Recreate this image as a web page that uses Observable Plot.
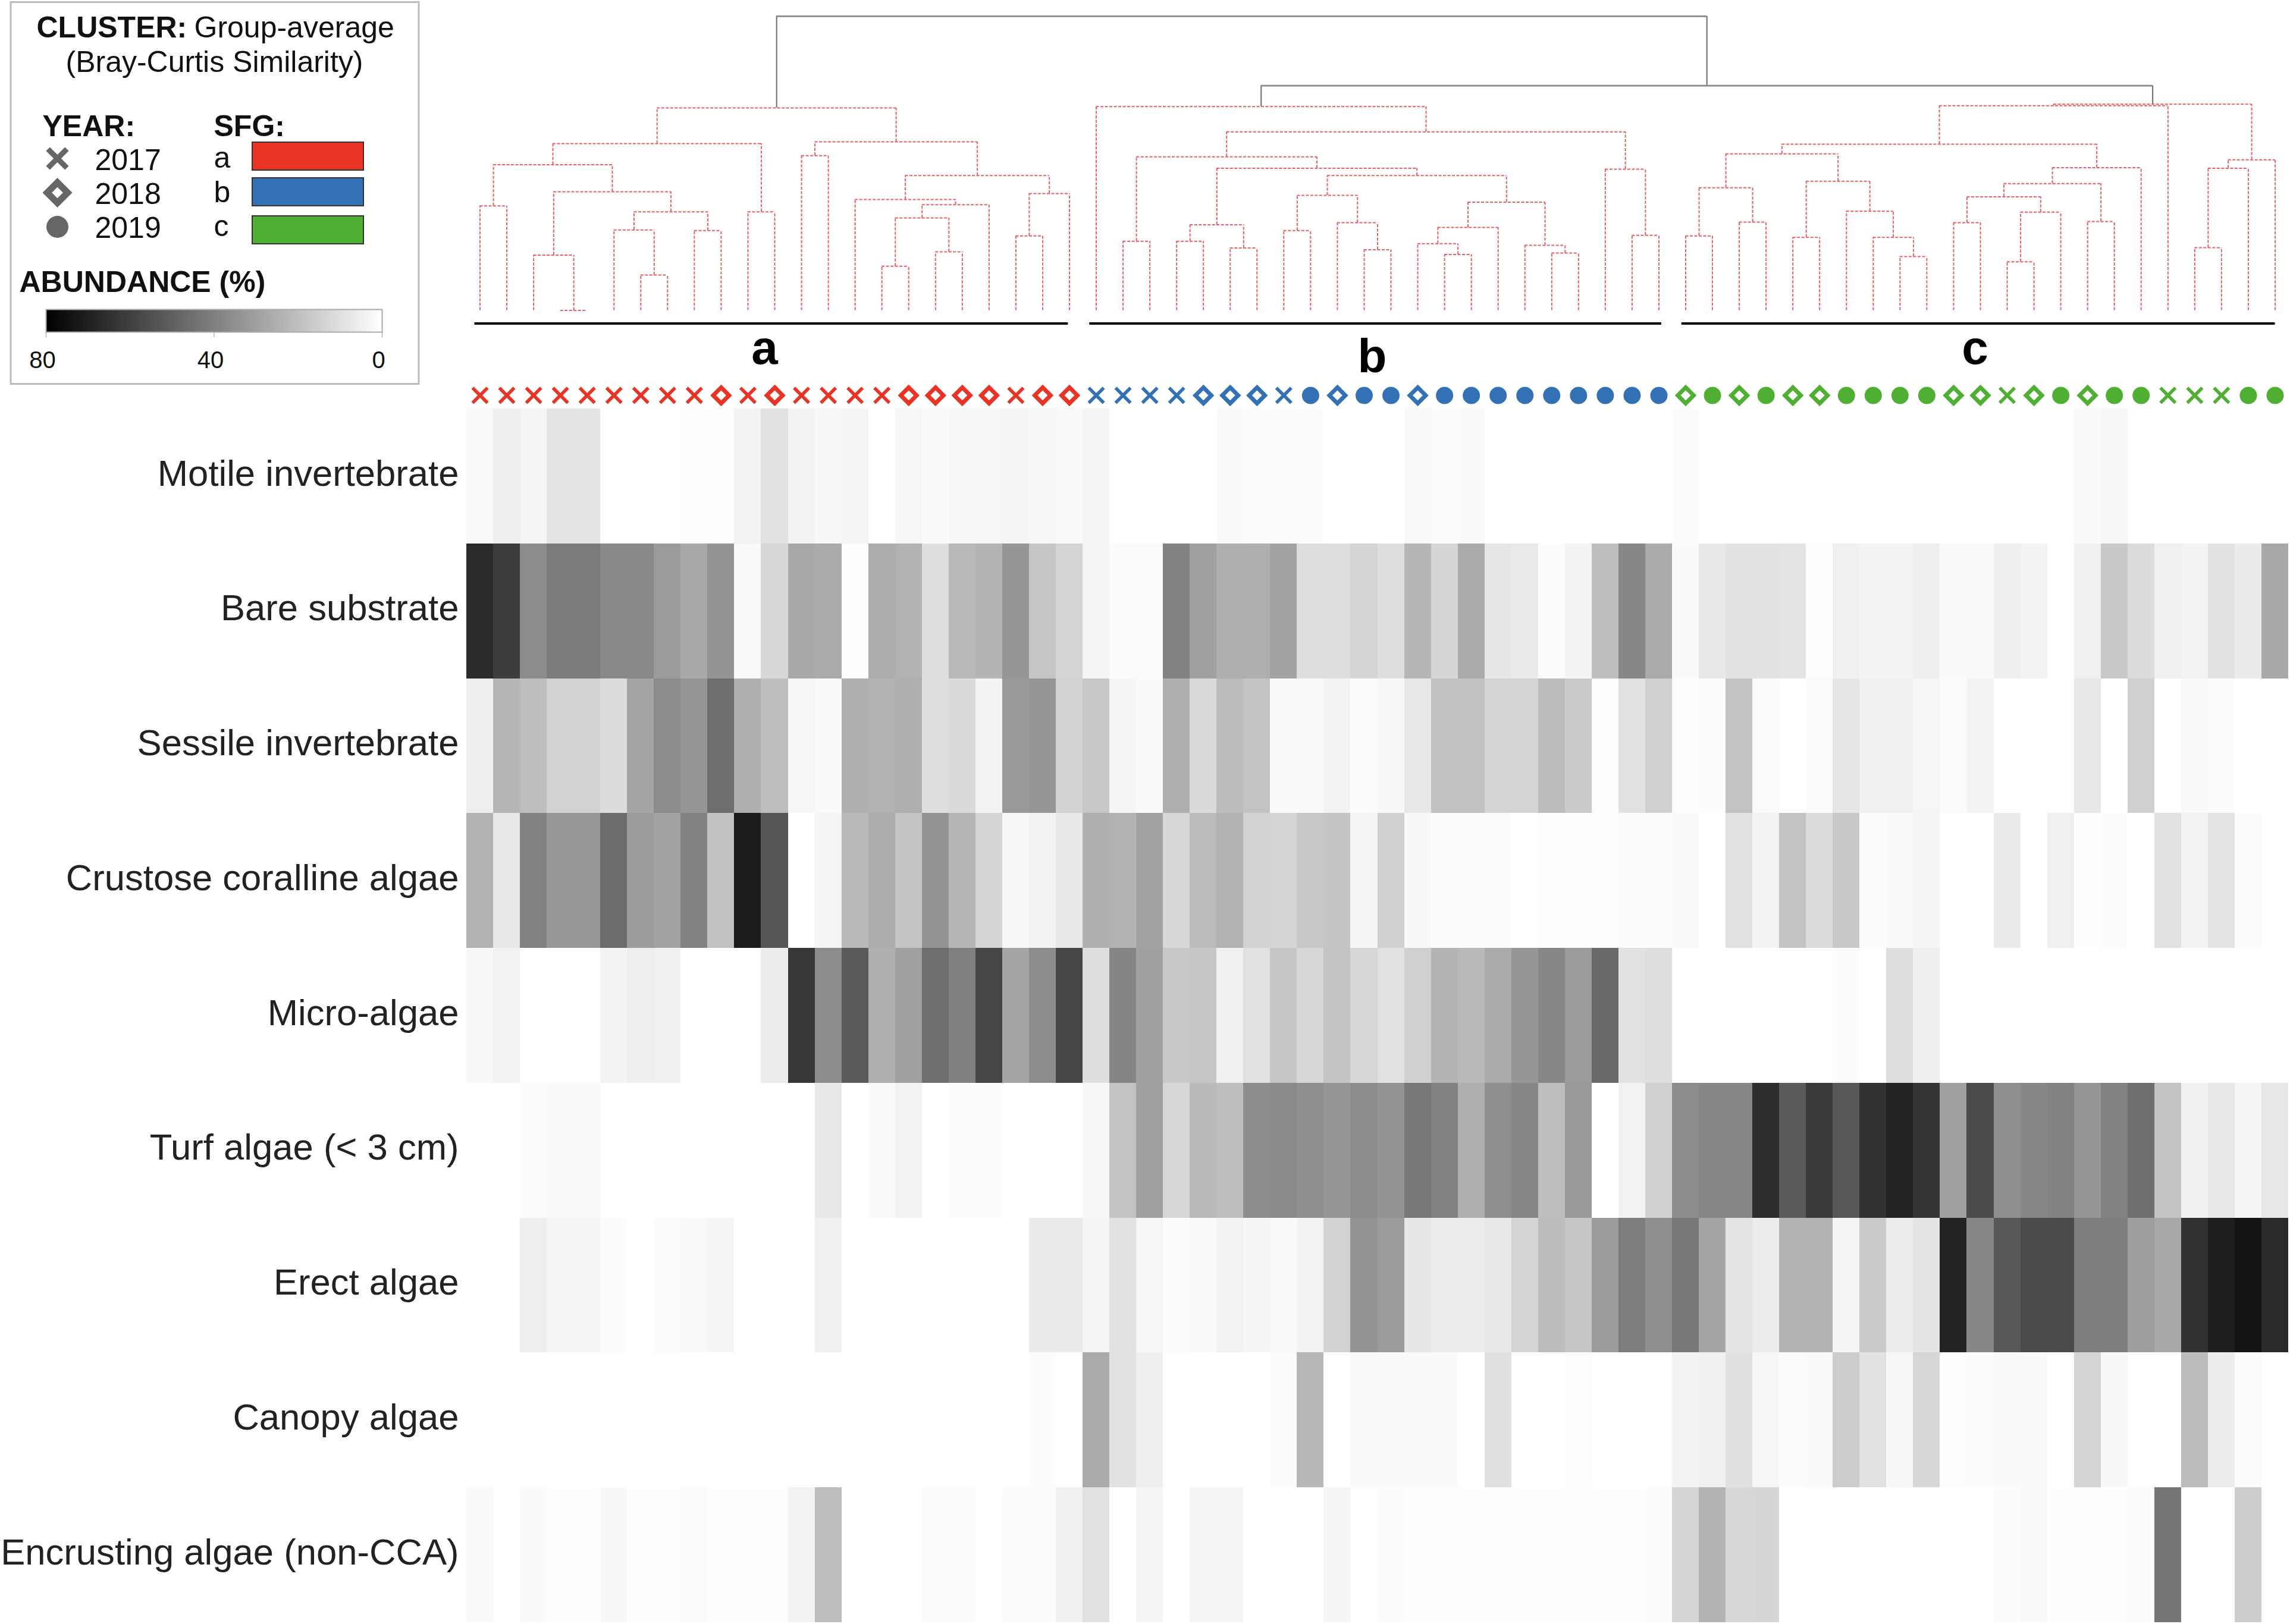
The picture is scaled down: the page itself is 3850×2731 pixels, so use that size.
<!DOCTYPE html>
<html>
<head>
<meta charset="utf-8">
<script src="https://cdn.jsdelivr.net/npm/d3@7"></script>
<script src="https://cdn.jsdelivr.net/npm/@observablehq/plot@0.6"></script>
<style>
html,body{margin:0;padding:0;background:#fff}
#page{position:relative;width:3850px;height:2731px;overflow:hidden}
#page svg{display:block;max-width:none}
.over{position:absolute;left:0;top:0}
</style>
</head>
<body>
<div id="page"></div>
<script>
const FONT = "'Liberation Sans', Arial, sans-serif";

// ----- categories -----
const groups = ["Motile invertebrate","Bare substrate","Sessile invertebrate","Crustose coralline algae","Micro-algae","Turf algae (< 3 cm)","Erect algae","Canopy algae","Encrusting algae (non-CCA)"];
const sfgNames = ["a","b","c"];
const sfgColors = ["#e93324","#3371b5","#4faf32"];
const sfgSizes = [23,22,23];
const legendYears = [2017,2018,2019];

// ----- year of each sample, in dendrogram order -----
const yearsA = [2017,2017,2017,2017,2017,2017,2017,2017,2017,2018,2017,2018,2017,2017,2017,2017,2018,2018,2018,2018,2017,2018,2018];
const yearsB = [2017,2017,2017,2017,2018,2018,2018,2017,2019,2018,2019,2019,2018,2019,2019,2019,2019,2019,2019,2019,2019,2019];
const yearsC = [2018,2019,2018,2019,2018,2018,2019,2019,2019,2019,2018,2018,2017,2018,2019,2018,2019,2019,2017,2017,2017,2019,2019];

// ----- abundance (%) per group, one value per sample -----
const motile = [1.6,5.3,3.1,8.5,8.5,0,0,0,0.6,0.3,4.1,9.1,3.8,2.2,3.1,0,2.8,1.6,2.5,2.8,3.1,2.5,1.6,
  3.5,0,0,0,0,1.6,1.3,0.9,0.9,0,0,0,1.9,1.3,1.6,0,0,0,0,0,0,0,
  0.9,0,0,0,0,0,0,0,0,0,0,0,0,0,0,1.6,2.2,0,0,0,0,0,0];
const bare = [66.8,61.2,36.1,41.4,41.4,37.3,37.3,31.4,27.3,33.6,1.6,12.5,27.3,26.7,0.6,26,24.2,10.4,22,23.5,32.9,17.9,13.5,
  3.1,1.3,1.3,39.2,29.8,25.1,25.1,28.9,10.4,10.4,13.2,10.4,22.9,12.9,26.7,7.8,6.6,0.9,3.8,20.4,37.6,26.7,
  1.6,7.2,9.1,9.1,8.5,0.6,4.7,3.8,3.8,5.3,1.6,1.6,5.3,3.8,0,4.7,17.3,11,4.7,3.8,9.1,6.3,27.3];
const sessile = [5.3,22.9,20.4,14.1,14.1,11,28.2,36.1,32.9,45.5,25.1,20.4,2.8,1.6,25.1,24.2,25.1,10.4,11.6,3.8,32,32.9,14.1,
  17.3,3.1,1.6,25.1,11.6,21,18.8,1.6,1.6,3.8,0.9,2.2,7.2,19.4,19.4,13.5,13.5,21,16.6,0.6,9.4,14.7,
  0.6,0.9,18.8,1.3,0,1.3,7.8,4.7,4.7,2.8,1.3,3.8,0,0,0,7.2,0,14.7,0,1.6,0.9,0,0];
const crustose = [24.2,7.2,39.2,32.3,32.3,46.1,31.4,29.2,39.2,19.4,71.2,53.3,0,3.5,21.6,26,18.5,33.6,22.9,13.5,2.8,3.8,7.2,
  25.1,24.2,28.9,12.5,21,24.2,14.1,13.5,17.3,18.2,3.1,14.7,2.2,0.9,0.9,0.9,0,0.6,0.6,0.6,0.9,0.9,
  1.6,0,9.4,3.8,18.8,11,17.3,0.9,1.6,3.1,0,0,6.3,0,4.7,0.6,0.9,0,9.4,3.8,8.5,0.9,0];
const micro = [2.2,4.1,0,0,0,3.8,5.3,4.7,0,0,0,6,62.7,36.1,51.8,25.1,29.8,45.5,39.8,58,28.2,36.1,58,
  10.4,38.3,29.8,17.3,17.9,4.7,9.4,17.9,12.5,18.8,12.5,9.4,14.7,23.5,22,26.7,32.9,37.6,31.4,47.1,9.4,10.4,
  0,0,0,0,0,0,0.9,0,10.4,5.3,0,0,0,0,0,0,0,0,0,0,0,0,0];
const turf = [0,0,0.9,1.6,1.6,0,0,0,0,0,0,0,0,7.2,0,1.6,4.1,0,0.9,0.9,0,0,0,
  2.5,18.8,29.8,12.5,22,20.4,36.1,36.7,35.1,32.9,36.1,33.6,42.4,39.2,25.1,35.4,37.6,20.4,32,0,4.1,14.7,
  36.1,37.6,37.6,65.9,51.8,61.8,52.4,64.3,69,63.7,29.8,56.5,35.1,37.6,39.2,32.9,39.2,45.5,18.8,4.7,7.2,3.1,7.2];
const erect = [0,0,5.3,3.5,3.5,0.9,0,1.3,1.9,3.1,0,0,0,4.7,0,0,0,0,0,0,0,6.3,6.3,
  3.5,9.1,2.8,0.9,1.6,4.1,3.1,1.9,3.8,14.1,33.6,31.4,7.8,6,6,7.2,13.5,21,17.9,31.4,40.8,35.4,
  42.4,28.2,8.5,6,23.5,23.5,3.1,16.6,6,8.5,69,37.6,52.4,56.5,56.5,40.8,40.8,30.4,27.3,64.3,70.6,73.7,66.8];
const canopy = [0,0,0,0,0,0,0,0,0,0,0,0,0,0,0,0,0,0,0,0,0,0.9,0,
  26.7,9.1,5.3,0,0,0,0,0.9,22.6,0,1.6,1.6,1.9,1.6,0,9.7,0,0,0.6,0,0,0,
  3.8,4.7,9.7,2.8,1.3,1.6,16,9.4,2.8,12.5,0.6,0.9,1.6,1.6,0,13.5,2.2,0,0,21.3,5.9,0.9,0];
const encrusting = [1.6,0,1.6,0.3,0.3,2.2,0.3,0.3,1.3,0.3,0.3,0.3,4.1,20.4,0,0,0,0.9,0.9,0,0.9,0.9,4.7,
  9.4,0,3.1,0,3.1,3.1,0,0,0,3.1,0,0.9,0.3,0.3,0.3,0.3,0.3,0.3,0.3,0.3,0.3,0.9,
  13.5,23.5,12.2,12.9,0,0,0,0,0,0,0,0,0.9,1.6,0.3,0.3,0.3,0.9,43,0,0,15.7,0];

// ----- dendrogram: [merge height, left, right]; a number is a sample -----
const treeA = [68.8,[56.7,[49.5,[35.5,0,1],[40.3,[18.8,2,[0,3,4]],[33.5,[27.3,5,[12,6,7]],[27.1,8,9]]]],[33.5,10,11]],
  [57.3,[52.6,12,13],[45.8,[37.7,14,[35.9,[31.4,[15,15,16],[19.9,17,18]],19]],[39.7,[25.3,20,21],22]]]];
const treeB = [69.3,23,[60.7,[52.2,[23.5,24,25],[48.3,[29.1,[23.5,26,27],[21.2,28,29]],
  [45.8,[39.1,[27.1,30,31],[29.8,32,[20.6,33,34]]],[36.8,[28.2,[22.7,35,[19,36,37]],38],[22.1,39,[19.5,40,41]]]]]],[48,42,[25.5,43,44]]]];
const treeC = [70.1,[69.6,[56.5,[53.2,[41.7,[25.3,45,46],[30,47,48]],[43.9,[24.8,49,50],[33.7,51,[24.8,52,[18.3,53,54]]]]],
  [48.5,[43.1,[38.6,[29.8,55,56],[33.4,[16.5,57,58],59]],[30.2,60,61]],62]],63],[51.2,[48.3,[21.3,64,65],66],67]];
const heightBC = 76.4, heightRoot = 100;
const clusterBars = [[0.3,22.45],[23.25,44.6],[45.35,67.5]];
const clusterLabels = [{name:"a",at:11.12,dy:90},{name:"b",at:33.8,dy:104},{name:"c",at:56.3,dy:90}];

// ----- tables -----
const seriesByGroup = [motile,bare,sessile,crustose,micro,turf,erect,canopy,encrusting];
const cells = groups.flatMap((g,r)=>seriesByGroup[r].map((v,c)=>({group:g,col:c,value:v})));
const allYears = [...yearsA,...yearsB,...yearsC];
const sfgOf = sfgSizes.flatMap((n,i)=>d3.range(n).map(()=>sfgNames[i]));
const samples = allYears.map((y,i)=>({x:i+0.5,year:y,sfg:sfgOf[i]}));

const hSegs=[], vSegs=[];
function walk(n){
  if(typeof n==="number") return {x:n+0.5,h:0};
  const [h,l,r]=n, L=walk(l), R=walk(r);
  hSegs.push({x1:L.x,x2:R.x,h});
  vSegs.push({x:L.x,h1:L.h,h2:h},{x:R.x,h1:R.h,h2:h});
  return {x:(L.x+R.x)/2,h};
}
const topA=walk(treeA), topB=walk(treeB), topC=walk(treeC);
const midBC=(topB.x+topC.x)/2;
const trunkH=[{x1:topB.x,x2:topC.x,h:heightBC},{x1:topA.x,x2:midBC,h:heightRoot}];
const trunkV=[{x:topB.x,h1:topB.h,h2:heightBC},{x:topC.x,h1:topC.h,h2:heightBC},{x:topA.x,h1:topA.h,h2:heightRoot},{x:midBC,h1:heightBC,h2:heightRoot}];

const SYMY = 143;
const symbolColor = {domain:sfgNames,range:sfgColors};
const dashStyle = {stroke:"#e8606a",strokeWidth:2,strokeDasharray:"5 2.5"};

const dendroPlot = Plot.plot({
  width:3850,height:687,margin:0,
  style:{fontFamily:FONT,background:"transparent"},
  x:{domain:[0,68],range:[784,3847],axis:null},
  y:{domain:[0,100],range:[521.4,26.8],axis:null},
  color:symbolColor,
  marks:[
    Plot.ruleX(vSegs,{x:"x",y1:"h1",y2:"h2",...dashStyle}),
    Plot.ruleY(hSegs,{x1:"x1",x2:"x2",y:"h",...dashStyle}),
    Plot.ruleX(trunkV,{x:"x",y1:"h1",y2:"h2",stroke:"#777",strokeWidth:2.2}),
    Plot.ruleY(trunkH,{x1:"x1",x2:"x2",y:"h",stroke:"#8a8a8a",strokeWidth:2.8}),
    Plot.ruleY(clusterBars,{x1:d=>d[0],x2:d=>d[1],y:()=>0,dy:22,stroke:"#000",strokeWidth:4}),
    ...clusterLabels.map(d=>Plot.text([d],{x:"at",y:()=>0,dy:d.dy,text:"name",lineAnchor:"bottom",fontSize:80,fontWeight:700,fill:"#000"})),
    Plot.dot(samples.filter(d=>d.year===2017),{x:"x",y:()=>0,dy:SYMY,symbol:"times",r:11.5,stroke:"sfg",strokeWidth:5.5}),
    Plot.dot(samples.filter(d=>d.year===2018),{x:"x",y:()=>0,dy:SYMY,symbol:"diamond2",r:12,stroke:"sfg",strokeWidth:7,fill:"white"}),
    Plot.dot(samples.filter(d=>d.year===2019),{x:"x",y:()=>0,dy:SYMY,symbol:"circle",r:14.5,fill:"sfg",stroke:"none"})
  ]
});

const heat = Plot.plot({
  width:3850,height:2044,
  marginLeft:784,marginRight:3,marginTop:0,marginBottom:3,
  style:{fontFamily:FONT,background:"transparent"},
  x:{domain:d3.range(68),padding:0,round:false,axis:null},
  y:{domain:groups,padding:0,round:false,label:null},
  color:{type:"linear",domain:[0,80],range:["#ffffff","#000000"]},
  marks:[
    Plot.cell(cells,{x:"col",y:"group",fill:"value",shapeRendering:"crispEdges"}),
    Plot.axisY({tickSize:0,tickPadding:13,fontSize:61.6,dy:-4,label:null,fill:"#222"})
  ]
});

// ----- legend -----
const px = {x:{domain:[0,780],range:[0,780],axis:null},y:{domain:[0,700],range:[0,700],axis:null}};
const T=(s,x,y,opt={})=>Plot.text([s],{x:()=>x,y:()=>y,text:d=>d,textAnchor:"start",lineAnchor:"bottom",fontSize:50,fill:"#111",...opt});
const legendBox = Plot.plot({
  width:780,height:700,margin:0,...px,
  style:{fontFamily:FONT,background:"transparent"},
  marks:[
    Plot.rect([0],{x1:()=>18,x2:()=>704,y1:()=>3.5,y2:()=>645.5,fill:"white",stroke:"#bbb",strokeWidth:3}),
    T("CLUSTER:",61,62.5,{fontWeight:700}),
    T("Group-average",326,62.5),
    T("(Bray-Curtis Similarity)",110,120),
    T("YEAR:",71,228,{fontWeight:700}),
    T("SFG:",359,228,{fontWeight:700}),
    ...legendYears.map((y,i)=>T(String(y),159,[285,342,399][i])),
    ...sfgNames.map((s,i)=>T(s,359,[281,339,396][i])),
    ...sfgNames.map((s,i)=>Plot.rect([s],{x1:()=>424,x2:()=>611,y1:()=>[239,299,363][i],y2:()=>[286,346,410][i],fill:sfgColors[i],stroke:"#333",strokeWidth:2})),
    T("ABUNDANCE (%)",32,490,{fontWeight:700})
  ]
});
legendBox.classList.add("over");

const legendSym = Plot.plot({
  width:192,height:700,margin:0,
  style:{background:"transparent"},
  x:{domain:[0,1],axis:null},
  y:{domain:[2017,2019],range:[266,381],axis:null},
  marks:[
    Plot.dot([2017],{y:d=>d,symbol:"times",r:14.5,stroke:"#666",strokeWidth:9}),
    Plot.dot([2018],{y:d=>d,symbol:"diamond2",r:15.5,stroke:"#666",strokeWidth:11,fill:"white"}),
    Plot.dot([2019],{y:d=>d,symbol:"circle",r:18.5,fill:"#666",stroke:"none"})
  ]
});
legendSym.classList.add("over");

const rampTicks=[80,40,0];
const rampSteps=d3.range(0,80,0.5);
const legendRamp = Plot.plot({
  width:780,height:700,
  marginLeft:77,marginRight:138,marginTop:520,marginBottom:142,
  style:{fontFamily:FONT,background:"transparent"},
  x:{domain:[80,0],label:null},
  y:{domain:[0,1],axis:null},
  color:{type:"linear",domain:[0,80],range:["#ffffff","#000000"]},
  marks:[
    Plot.rect(rampSteps,{x1:d=>d,x2:d=>d+0.5,y1:()=>0,y2:()=>1,fill:d=>d+0.25,shapeRendering:"crispEdges"}),
    Plot.frame({stroke:"#aaa",strokeWidth:2}),
    Plot.axisX({ticks:rampTicks,tickSize:9,tickFormat:()=>"",label:null,stroke:"#999"}),
    Plot.axisX({ticks:rampTicks,tickSize:0,tickPadding:32,dx:-6,fontSize:40,label:null,fill:"#111"})
  ]
});
legendRamp.classList.add("over");

document.getElementById("page").append(dendroPlot,heat,legendBox,legendRamp,legendSym);
</script>
</body>
</html>
